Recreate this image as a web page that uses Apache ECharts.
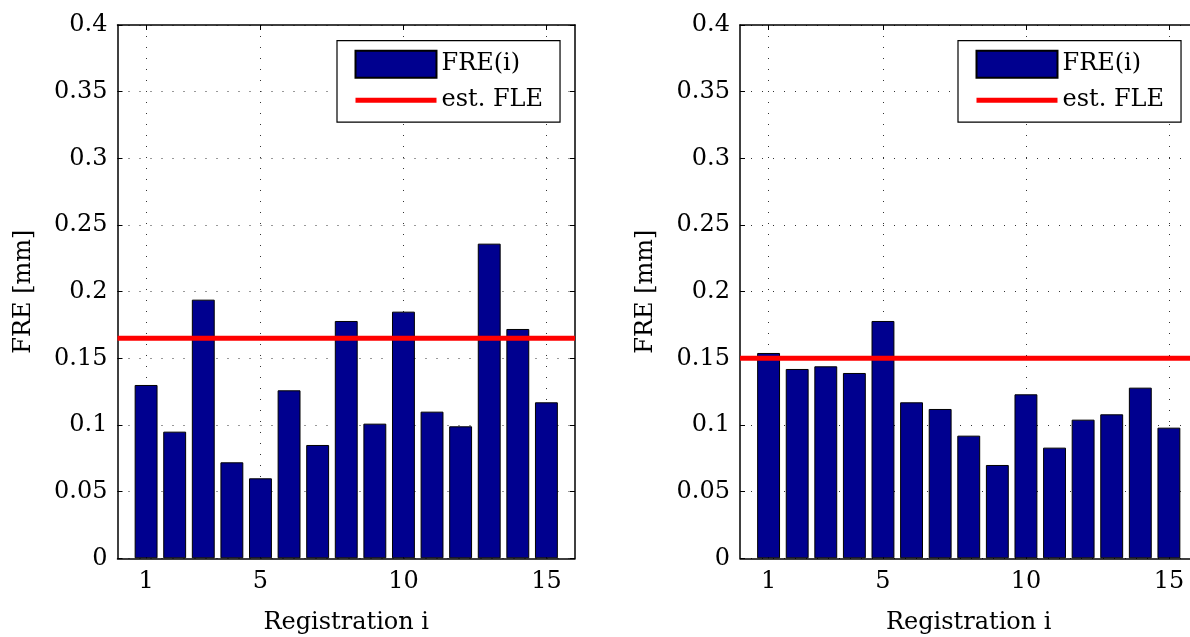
<!DOCTYPE html>
<html>
<head>
<meta charset="utf-8">
<script src="https://cdn.jsdelivr.net/npm/echarts@6/dist/echarts.min.js"></script>
<style>
  html, body { margin: 0; padding: 0; background: #fff; }
  #chart { width: 1190px; height: 637px; }
</style>
</head>
<body>
<div id="chart"></div>
<script>
// data
const registrations = [1, 2, 3, 4, 5, 6, 7, 8, 9, 10, 11, 12, 13, 14, 15];
const freLeft = [0.130, 0.095, 0.194, 0.072, 0.060, 0.126, 0.085, 0.178, 0.101, 0.185, 0.110, 0.099, 0.236, 0.172, 0.117];
const freRight = [0.154, 0.142, 0.144, 0.139, 0.178, 0.117, 0.112, 0.092, 0.070, 0.123, 0.083, 0.104, 0.108, 0.128, 0.098];
const fleLeft = 0.165;
const fleRight = 0.150;
const xTicks = [1, 5, 10, 15];
const xLimits = [0, 16];
const yLimits = [0, 0.4];
const yStep = 0.05;
const seriesNames = ['FRE(i)', 'est. FLE'];

const FONT = 'DejaVu Serif';
const textStyle = { color: '#000', fontFamily: FONT, fontSize: 24 };
const dotted = { color: '#333', width: 1, type: [1, 10] };
const frame = { color: '#000', width: 1.5 };

// two panels, same size
const panels = [
    { left: 117.5, legendLeft: 337, fre: freLeft, fle: fleLeft },
    { left: 740, legendLeft: 958, fre: freRight, fle: fleRight }
];

const grids = [], xAxes = [], yAxes = [], series = [], legends = [];

panels.forEach((p, i) => {
    grids.push({ left: p.left, top: 25, width: 457.5, height: 533.3, containLabel: false, outerBoundsMode: 'none' });

    // bottom + top x axis (top one only for the box / ticks)
    ['bottom', 'top'].forEach((pos) => {
        const main = pos === 'bottom';
        xAxes.push({
            type: 'value',
            gridIndex: i,
            position: pos,
            min: xLimits[0],
            max: xLimits[1],
            axisLine: { show: true, onZero: false, lineStyle: frame },
            axisTick: { show: true, inside: true, length: 5, customValues: xTicks, lineStyle: { color: '#000', width: 1 } },
            axisLabel: Object.assign({ show: main, customValues: xTicks, margin: 11 }, textStyle),
            splitLine: { show: main, lineStyle: dotted },
            name: main ? 'Registration i' : '',
            nameLocation: 'middle',
            nameGap: 52,
            nameTextStyle: textStyle
        });
    });

    // left + right y axis
    ['left', 'right'].forEach((pos) => {
        const main = pos === 'left';
        yAxes.push({
            type: 'value',
            gridIndex: i,
            position: pos,
            min: yLimits[0],
            max: yLimits[1],
            interval: yStep,
            axisLine: { show: true, onZero: false, lineStyle: frame },
            axisTick: { show: true, inside: true, length: 5, lineStyle: { color: '#000', width: 1 } },
            axisLabel: Object.assign({ show: main, margin: 10 }, textStyle),
            splitLine: { show: main, lineStyle: dotted },
            name: main ? 'FRE [mm]' : '',
            nameLocation: 'middle',
            nameGap: 82,
            nameTextStyle: textStyle
        });
    });

    series.push({
        name: seriesNames[0],
        type: 'bar',
        xAxisIndex: i * 2,
        yAxisIndex: i * 2,
        barWidth: 22.9,
        itemStyle: { color: '#00008F', borderColor: '#000', borderWidth: 1 },
        data: registrations.map((r, k) => [r, p.fre[k]]),
        z: 3
    });
    series.push({
        name: seriesNames[1],
        type: 'line',
        xAxisIndex: i * 2,
        yAxisIndex: i * 2,
        symbol: 'none',
        lineStyle: { color: '#FF0000', width: 5 },
        itemStyle: { color: '#FF0000' },
        data: [[xLimits[0], p.fle], [xLimits[1], p.fle]],
        z: 4
    });

    legends.push({
        orient: 'vertical',
        left: p.legendLeft,
        top: 40.7,
        padding: [9, 17, 10, 16],
        itemWidth: 81,
        itemHeight: 27,
        itemGap: 9.5,
        backgroundColor: '#fff',
        borderColor: '#000',
        borderWidth: 1.2,
        textStyle: { color: '#000', fontFamily: FONT, fontSize: 24 },
        data: [
            { name: seriesNames[0], icon: 'rect' },
            { name: seriesNames[1], itemStyle: { opacity: 0 }, lineStyle: { color: '#FF0000', width: 5, opacity: 1 } }
        ],
        selectedMode: false
    });
});

const chart = echarts.init(document.getElementById('chart'));
chart.setOption({
    animation: false,
    backgroundColor: '#fff',
    grid: grids,
    xAxis: xAxes,
    yAxis: yAxes,
    legend: legends,
    series: series
});
</script>
</body>
</html>
